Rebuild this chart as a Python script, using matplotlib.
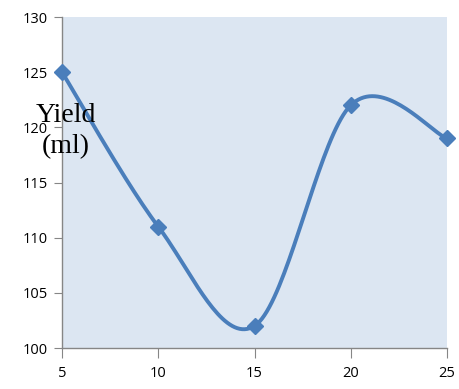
import numpy as np
import matplotlib
matplotlib.use("Agg")
import matplotlib.pyplot as plt

# data
x_vals = [5, 10, 15, 20, 25]
y_vals = [125, 111, 102, 122, 119]
x_ticks = [5, 10, 15, 20, 25]
y_ticks = [100, 105, 110, 115, 120, 125, 130]

fig = plt.figure(figsize=(4.6, 3.89), dpi=100)
ax = fig.add_axes([62 / 460, 41 / 389, 385 / 460, 331 / 389])
ax.set_facecolor("#DCE6F2")
ax.set_xlim(5, 25)
ax.set_ylim(100, 130)


def smooth_line(xs, ys, xr, yr, n=40):
    # excel-like smoothing: bezier with catmull-rom control points, in screen units
    px = (np.array(xs, float) - xr[0]) / (xr[1] - xr[0]) * 385
    py = (np.array(ys, float) - yr[0]) / (yr[1] - yr[0]) * 331
    pts = np.column_stack([px, py])
    out = []
    for i in range(len(pts) - 1):
        p0 = pts[i - 1] if i > 0 else pts[i]
        p1 = pts[i]
        p2 = pts[i + 1]
        p3 = pts[i + 2] if i + 2 < len(pts) else pts[i + 1]
        c1 = p1 + (p2 - p0) / 6
        c2 = p2 - (p3 - p1) / 6
        t = np.linspace(0, 1, n)[:, None]
        seg = (1 - t) ** 3 * p1 + 3 * (1 - t) ** 2 * t * c1 + 3 * (1 - t) * t ** 2 * c2 + t ** 3 * p2
        out.append(seg if i == 0 else seg[1:])
    out = np.vstack(out)
    sx = out[:, 0] / 385 * (xr[1] - xr[0]) + xr[0]
    sy = out[:, 1] / 331 * (yr[1] - yr[0]) + yr[0]
    return sx, sy


sx, sy = smooth_line(x_vals, y_vals, (5, 25), (100, 130))
ax.plot(sx, sy, color="#4A7EBB", lw=2.8, solid_capstyle="round", clip_on=False, zorder=3)
ax.plot(x_vals, y_vals, linestyle="none", marker="D", ms=8.5, color="#4A7EBB", clip_on=False, zorder=4)

ax.set_xticks(x_ticks)
ax.set_yticks(y_ticks)
for s in ["top", "right"]:
    ax.spines[s].set_visible(False)
for s in ["left", "bottom"]:
    ax.spines[s].set_color("#868686")
    ax.spines[s].set_linewidth(1.0)
ax.tick_params(axis="both", colors="#868686", labelcolor="black", labelsize=10.5, direction="out")
ax.tick_params(axis="y", length=6, pad=4)
ax.tick_params(axis="x", length=7, pad=6)
for lbl in ax.get_xticklabels() + ax.get_yticklabels():
    lbl.set_fontfamily("Open Sans")

fig.text(66 / 460, 1 - 131 / 389, "Yield\n(ml)", ha="center", va="center",
         fontsize=20, family="Liberation Serif", linespacing=1.3)

fig.savefig("out.png", dpi=100)
